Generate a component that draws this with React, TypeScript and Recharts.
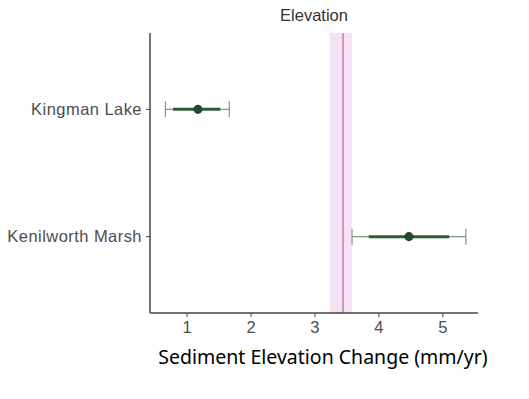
import React from "react";
import {
  ScatterChart,
  Scatter,
  ErrorBar,
  XAxis,
  YAxis,
  ZAxis,
  ReferenceLine,
  ReferenceArea,
} from "recharts";

const sites = ["Kingman Lake", "Kenilworth Marsh"];
const means = [1.17, 4.47];
const outerLow = [0.66, 3.58];
const outerHigh = [1.66, 5.36];
const innerLow = [0.78, 3.84];
const innerHigh = [1.52, 5.1];
const xTicks = [1, 2, 3, 4, 5];
const refValue = 3.44;
const refLow = 3.23;
const refHigh = 3.58;

// sites sit at discrete positions 1, 2 (ggplot style, 0.6 expansion)
const data = sites.map((site, i) => ({
  site,
  pos: i + 1,
  mean: means[i],
  outer: [means[i] - outerLow[i], outerHigh[i] - means[i]],
  inner: [means[i] - innerLow[i], innerHigh[i] - means[i]],
}));

const tickStyle = { fontFamily: "Liberation Sans", fontSize: 16.5, fill: "#4d4d4d" };

export default function App() {
  return (
    <div style={{ position: "absolute", left: 0, top: 0, width: 529, height: 399, background: "#fff" }}>
      <div
        style={{
          position: "absolute",
          left: 214,
          width: 200,
          top: 6,
          textAlign: "center",
          fontFamily: "Liberation Sans",
          fontSize: 16.5,
          color: "#333",
        }}
      >
        Elevation
      </div>
      <ScatterChart width={529} height={399} margin={{ top: 33, right: 51, bottom: 56, left: 0 }}>
        <ReferenceArea x1={refLow} x2={refHigh} fill="#f3ddf0" fillOpacity={0.85} stroke="none" />
        <ReferenceLine x={refValue} stroke="#c77cc0" strokeWidth={1.5} />
        <XAxis
          type="number"
          dataKey="mean"
          domain={[0.42, 5.55]}
          ticks={xTicks}
          allowDataOverflow
          height={30}
          tick={tickStyle}
          tickSize={4}
          tickMargin={4}
          axisLine={{ stroke: "#444", strokeWidth: 1.5 }}
          tickLine={{ stroke: "#444" }}
        />
        <YAxis
          type="number"
          dataKey="pos"
          domain={[0.4, 2.6]}
          ticks={[1, 2]}
          reversed
          allowDataOverflow
          width={150}
          tickFormatter={(v: number) => sites[v - 1] ?? ""}
          tick={{ ...tickStyle, letterSpacing: 0.45 }}
          tickSize={4}
          tickMargin={4}
          axisLine={{ stroke: "#444", strokeWidth: 1.5 }}
          tickLine={{ stroke: "#444" }}
        />
        <ZAxis range={[55, 55]} />
        <Scatter data={data} fill="#1f4a2a" isAnimationActive={false}>
          <ErrorBar dataKey="outer" direction="x" width={8} stroke="#7d9a80" strokeWidth={1.2} />
          <ErrorBar dataKey="inner" direction="x" width={0} stroke="#2e5b38" strokeWidth={3} />
        </Scatter>
      </ScatterChart>
      <div
        style={{
          position: "absolute",
          left: 123,
          width: 400,
          top: 343,
          textAlign: "center",
          fontFamily: "Noto Sans",
          fontSize: 19.5,
          color: "#000",
        }}
      >
        Sediment Elevation Change (mm/yr)
      </div>
    </div>
  );
}
